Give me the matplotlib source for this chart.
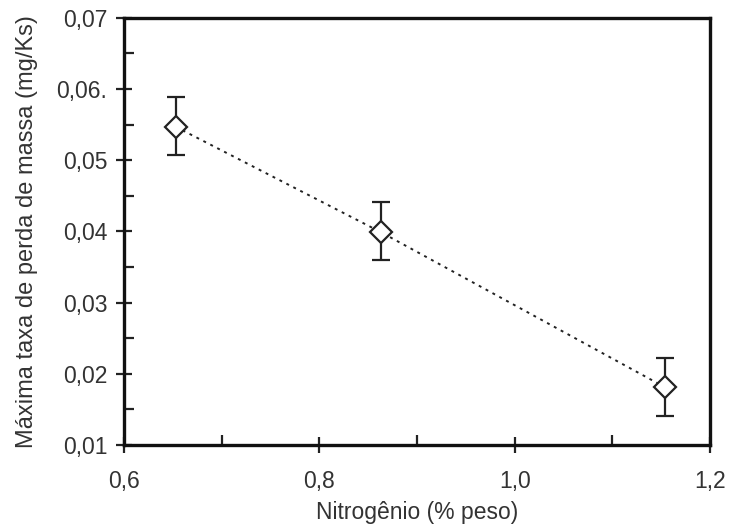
import matplotlib.pyplot as plt
import numpy as np

plt.rcParams['font.family'] = ['Liberation Sans', 'DejaVu Sans']

nitrogen = [0.653, 0.863, 1.154]
rate = [0.0547, 0.0399, 0.0181]
err_up = [0.0042, 0.0042, 0.0041]
err_down = [0.0039, 0.0039, 0.0040]
xticks = [0.6, 0.8, 1.0, 1.2]
xticklabels = ['0,6', '0,8', '1,0', '1,2']
yticks = [0.01, 0.02, 0.03, 0.04, 0.05, 0.06, 0.07]
yticklabels = ['0,01', '0,02', '0,03', '0,04', '0,05', '0,06.', '0,07']

fig = plt.figure(figsize=(7.29, 5.26), dpi=100)
ax = fig.add_axes([0.170, 0.154, 0.804, 0.812])

ax.plot(nitrogen, rate, ls=(0, (1.5, 2.5)), color='#222222', lw=1.4, zorder=1)
ax.errorbar(nitrogen, rate, yerr=[err_down, err_up], fmt='D', ms=11,
            mfc='white', mec='#222222', mew=1.6, ecolor='#222222',
            elinewidth=1.6, capsize=6.5, capthick=1.6, zorder=2)

ax.set_xlim(0.6, 1.2)
ax.set_ylim(0.01, 0.07)
ax.set_xticks(xticks)
ax.set_xticklabels(xticklabels)
ax.set_yticks(yticks)
ax.set_yticklabels(yticklabels)
ax.set_xticks([0.7, 0.9, 1.1], minor=True)
ax.set_yticks(np.arange(0.015, 0.07, 0.01), minor=True)

ax.tick_params(which='major', direction='inout', length=12, width=1.6,
               labelsize=16.5, labelcolor='#333333', color='#222222', pad=6)
ax.tick_params(which='minor', direction='in', length=7, width=1.6,
               color='#222222')
ax.tick_params(axis='x', which='major', pad=12)

for s in ax.spines.values():
    s.set_linewidth(2.4)
    s.set_color('#111111')

ax.set_xlabel('Nitrogênio (% peso)', fontsize=16.5, color='#333333', labelpad=6)
ax.set_ylabel('Máxima taxa de perda de massa (mg/Ks)', fontsize=17,
              color='#333333', labelpad=13)

fig.savefig('out.png', dpi=100)
